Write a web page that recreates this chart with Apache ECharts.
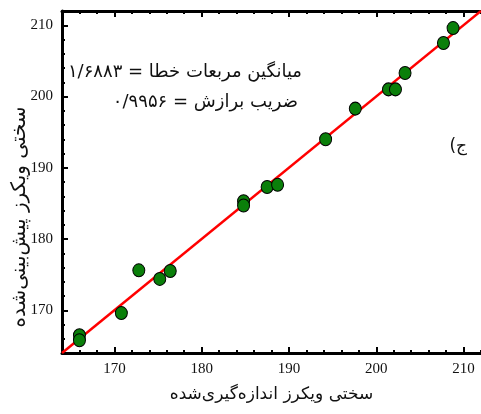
<!DOCTYPE html>
<html lang="fa">
<head>
<meta charset="utf-8">
<script src="https://cdn.jsdelivr.net/npm/echarts@6/dist/echarts.min.js"></script>
<style>
html,body{margin:0;padding:0;background:#fff;}
#main{width:481px;height:414px;}
</style>
</head>
<body>
<div id="main" dir="rtl"></div>
<script>
// Data
const measured  = [166.0, 166.0, 170.8, 172.8, 175.2, 176.4, 184.8, 184.8, 187.5, 188.7, 194.2, 197.6, 201.4, 202.2, 203.3, 207.7, 208.8];
const predicted = [166.5, 165.8, 169.6, 175.6, 174.4, 175.5, 185.3, 184.7, 187.3, 187.6, 194.0, 198.3, 201.0, 201.0, 203.3, 207.5, 209.6];
const fitX = [164, 212];
const fitY = [164, 212];
const xTicks = [170, 180, 190, 200, 210];
const yTicks = [170, 180, 190, 200, 210];
const xTitle = 'سختی ویکرز اندازه‌گیری‌شده';
const yTitle = 'سختی ویکرز پیش‌بینی‌شده';
const note1 = 'میانگین مربعات خطا = ۱/۶۸۸۳';
const note2 = 'ضریب برازش = ۰/۹۹۵۶';
const panel = 'ج)';

const AX_MIN = 164, AX_MAX = 212;
const serif = '"Liberation Serif", "DejaVu Serif", serif';
const faFont = '"DejaVu Sans", "Liberation Serif", serif';

function mainAxis(pos, ticks, showLabel) {
  return {
    type: 'value', position: pos, min: AX_MIN, max: AX_MAX, interval: 2,
    axisLine: {show: true, onZero: false, lineStyle: {color: '#000', width: 3}},
    axisTick: {show: true, inside: true, length: 6, customValues: ticks, lineStyle: {color: '#000', width: 2}},
    axisLabel: {show: showLabel, customValues: ticks, margin: 9, color: '#111', fontSize: 15, fontFamily: serif},
    splitLine: {show: false}
  };
}
function minorAxis(pos) {
  return {
    type: 'value', position: pos, min: AX_MIN, max: AX_MAX, interval: 2,
    axisLine: {show: false, onZero: false},
    axisTick: {show: true, inside: true, length: 3, lineStyle: {color: '#000', width: 2}},
    axisLabel: {show: false},
    splitLine: {show: false}
  };
}

const chart = echarts.init(document.getElementById('main'), null, {renderer: 'canvas'});
chart.setOption({
  backgroundColor: '#fff',
  animation: false,
  grid: {left: 62, top: 11, bottom: 61, right: -5, containLabel: false},
  xAxis: [
    Object.assign(mainAxis('bottom', xTicks, true), {
      name: xTitle, nameLocation: 'middle', nameGap: 33,
      nameTextStyle: {fontSize: 17, color: '#111', fontFamily: faFont}
    }),
    minorAxis('bottom'),
    mainAxis('top', xTicks, false),
    minorAxis('top')
  ],
  yAxis: [
    mainAxis('left', yTicks, true),
    minorAxis('left')
  ],
  graphic: [
    {type: 'text', x: 20, y: 217, rotation: Math.PI / 2,
     style: {text: yTitle, font: '20px ' + faFont, fill: '#111', align: 'center', verticalAlign: 'middle'}},
    {type: 'text', x: 302, y: 72,
     style: {text: note1, font: '18px ' + faFont, fill: '#111', align: 'right', verticalAlign: 'middle'}},
    {type: 'text', x: 298, y: 102,
     style: {text: note2, font: '18px ' + faFont, fill: '#111', align: 'right', verticalAlign: 'middle'}},
    {type: 'text', x: 467, y: 147,
     style: {text: panel, font: '17px ' + faFont, fill: '#111', align: 'right', verticalAlign: 'middle'}}
  ],
  series: [
    {
      type: 'line', xAxisIndex: 0, yAxisIndex: 0,
      data: fitX.map((x, i) => [x, fitY[i]]),
      symbol: 'none', lineStyle: {color: '#ff0000', width: 2.5}, z: 2, clip: true
    },
    {
      type: 'scatter', xAxisIndex: 0, yAxisIndex: 0,
      data: measured.map((x, i) => [x, predicted[i]]),
      symbol: 'circle', symbolSize: [12, 13],
      itemStyle: {color: '#0a7f0a', borderColor: '#000', borderWidth: 1, opacity: 1}, z: 3
    }
  ]
});
</script>
</body>
</html>
